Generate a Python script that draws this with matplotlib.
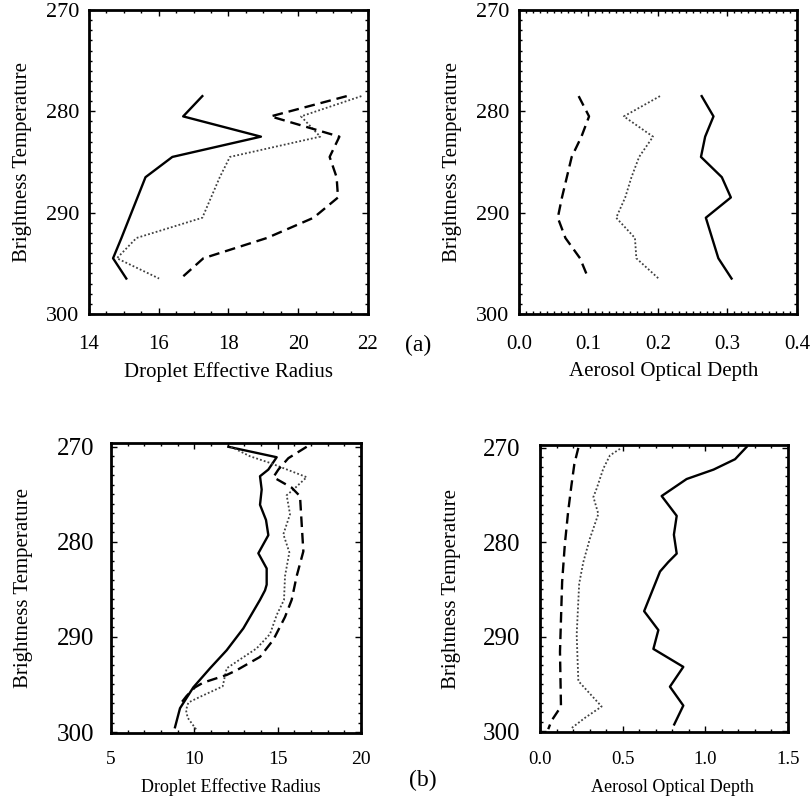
import matplotlib
matplotlib.use("Agg")
import matplotlib.pyplot as plt
from matplotlib.ticker import MultipleLocator

plt.rcParams['font.family'] = ['Liberation Serif', 'DejaVu Serif']

# ---------------- data ----------------
# (a) top panels: common brightness-temperature levels
t_a = [278.5, 280.5, 282.5, 284.5, 286.5, 288.5, 290.5, 292.5, 294.5, 296.5]
re_a_solid = [17.25, 16.70, 18.93, 16.39, 15.62, 15.39, 15.16, 14.93, 14.69, 15.07]
re_a_dot = [21.81, 20.08, 20.63, 18.04, 17.75, 17.50, 17.25, 15.36, 14.80, 16.01]
re_a_dash = [21.39, 19.21, 21.18, 20.90, 21.10, 21.14, 20.44, 19.10, 17.28, 16.63]
aod_a_dash = [0.086, 0.101, 0.090, 0.076, 0.069, 0.062, 0.056, 0.067, 0.088, 0.100]
aod_a_dot = [0.203, 0.151, 0.193, 0.173, 0.162, 0.153, 0.140, 0.167, 0.169, 0.201]
aod_a_solid = [0.263, 0.280, 0.268, 0.262, 0.292, 0.305, 0.269, 0.278, 0.287, 0.306]

# (b) bottom-left: droplet effective radius
t_b_re_solid = [270.0, 271.1, 272.4, 273.1, 274.5, 276.1, 277.7, 279.3, 281.2, 282.8,
                284.5, 285.1, 286.1, 289.1, 291.4, 293.3, 295.3, 297.5, 299.5]
re_b_solid = [12.04, 14.94, 14.44, 13.94, 14.04, 13.94, 14.30, 14.44, 13.84, 14.34,
              14.34, 14.24, 13.94, 12.94, 11.94, 10.94, 9.94, 9.14, 8.84]
t_b_re_dot = [270.0, 271.0, 271.7, 273.2, 274.5, 275.1, 277.1, 279.2, 281.1, 283.6,
              286.1, 287.7, 289.7, 291.2, 293.3, 295.2, 296.3, 296.9, 297.7, 298.5, 299.8]
re_b_dot = [12.2, 13.34, 14.54, 16.74, 15.94, 15.54, 15.74, 15.34, 15.70, 15.44,
            15.38, 14.94, 14.54, 13.74, 11.94, 11.70, 10.34, 9.64, 9.50, 9.60, 10.14]
t_b_re_dash = [270.0, 271.2, 272.4, 273.2, 274.3, 275.2, 278.1, 281.0, 283.6, 286.1,
               287.9, 290.3, 292.1, 293.5, 294.0, 294.8, 295.3, 296.2, 297.1]
re_b_dash = [16.74, 15.64, 15.04, 14.74, 15.84, 16.34, 16.44, 16.54, 16.14, 15.84,
             15.44, 14.74, 13.94, 12.54, 11.94, 10.54, 10.04, 9.54, 9.14]

# (b) bottom-right: aerosol optical depth
t_b_aod_solid = [269.9, 271.2, 272.3, 273.3, 275.1, 277.2, 279.2, 281.2, 282.1, 283.1,
                 287.3, 289.3, 291.3, 293.2, 295.3, 297.3, 299.3]
aod_b_solid = [1.25, 1.18, 1.05, 0.887, 0.736, 0.827, 0.81, 0.827, 0.776, 0.726,
               0.630, 0.716, 0.686, 0.867, 0.786, 0.867, 0.812]
t_b_aod_dash = [270.0, 270.7, 271.7, 274.0, 276.8, 280.3, 284.2, 291.6, 297.4, 298.9, 299.8]
aod_b_dash = [0.232, 0.222, 0.208, 0.19, 0.17, 0.15, 0.134, 0.121, 0.127, 0.07, 0.05]
t_b_aod_dot = [270.1, 270.8, 272.2, 274.3, 275.2, 277.0, 279.6, 282.1, 284.4, 289.8,
               294.7, 297.4, 298.6, 299.7]
aod_b_dot = [0.484, 0.423, 0.383, 0.343, 0.323, 0.353, 0.302, 0.262, 0.237, 0.222,
             0.232, 0.373, 0.272, 0.19]

ylabel_text = "Brightness Temperature"

# ---------------- styles ----------------
SOLID = dict(color='black', lw=1.7, linestyle='-')
DASH = dict(color='black', lw=1.7, linestyle=(0, (4.5, 2.5)))
DOT = dict(color='0.25', lw=1.3, linestyle=(0, (1, 1.2)))

fig = plt.figure(figsize=(8.12, 7.98), dpi=100)

def setup(ax, xlim, ylim, xmaj, xmin, xticks_fs, yticks_fs, xpad, ypad):
    ax.set_xlim(*xlim)
    ax.set_ylim(*ylim)
    ax.xaxis.set_major_locator(MultipleLocator(xmaj))
    ax.xaxis.set_minor_locator(MultipleLocator(xmin))
    ax.yaxis.set_major_locator(MultipleLocator(10))
    ax.yaxis.set_minor_locator(MultipleLocator(1))
    ax.tick_params(which='both', direction='in', top=True, right=True, width=1.0)
    ax.tick_params(which='major', length=4.5)
    ax.tick_params(which='minor', length=2.5)
    ax.tick_params(axis='x', which='major', labelsize=xticks_fs, pad=xpad)
    ax.tick_params(axis='y', which='major', labelsize=yticks_fs, pad=ypad)
    for s in ax.spines.values():
        s.set_linewidth(2.0)

# top-left
ax1 = fig.add_axes([0.1096, 0.6065, 0.3436, 0.381])
ax1.plot(re_a_solid, t_a, **SOLID)
ax1.plot(re_a_dot, t_a, **DOT)
ax1.plot(re_a_dash, t_a, **DASH)
setup(ax1, (14, 22), (300, 270), 2, 0.5, 15, 16, 15, 7)
ax1.set_xlabel("Droplet Effective Radius", fontsize=15, va='center')
ax1.xaxis.set_label_coords(0.5, -0.19)
ax1.set_ylabel(ylabel_text, fontsize=15, va='center')
ax1.yaxis.set_label_coords(-0.24, 0.5)

# top-right
ax2 = fig.add_axes([0.639, 0.6065, 0.3424, 0.381])
ax2.plot(aod_a_dash, t_a, **DASH)
ax2.plot(aod_a_dot, t_a, **DOT)
ax2.plot(aod_a_solid, t_a, **SOLID)
setup(ax2, (0.0, 0.4), (300, 270), 0.1, 0.01, 15, 16, 15, 7)
ax2.xaxis.set_major_formatter(matplotlib.ticker.FormatStrFormatter('%.1f'))
ax2.set_xlabel("Aerosol Optical Depth", fontsize=15, va='center')
ax2.xaxis.set_label_coords(0.52, -0.19)
ax2.set_ylabel(ylabel_text, fontsize=15, va='center')
ax2.yaxis.set_label_coords(-0.239, 0.5)

# bottom-left
ax3 = fig.add_axes([0.1367, 0.0815, 0.3079, 0.3634])
ax3.plot(re_b_solid, t_b_re_solid, **SOLID)
ax3.plot(re_b_dot, t_b_re_dot, **DOT)
ax3.plot(re_b_dash, t_b_re_dash, **DASH)
setup(ax3, (5, 20), (300.1, 269.6), 5, 1, 14, 18, 13, 12)
ax3.set_xlabel("Droplet Effective Radius", fontsize=13, va='center')
ax3.xaxis.set_label_coords(0.48, -0.186)
ax3.set_ylabel(ylabel_text, fontsize=15, va='center')
ax3.yaxis.set_label_coords(-0.348, 0.5)

# bottom-right
ax4 = fig.add_axes([0.665, 0.0827, 0.3054, 0.3596])
ax4.plot(aod_b_dash, t_b_aod_dash, **DASH)
ax4.plot(aod_b_dot, t_b_aod_dot, **DOT)
ax4.plot(aod_b_solid, t_b_aod_solid, **SOLID)
setup(ax4, (0.0, 1.5), (300.1, 269.7), 0.5, 0.1, 13.5, 18, 14, 14)
ax4.xaxis.set_major_formatter(matplotlib.ticker.FormatStrFormatter('%.1f'))
ax4.set_xlabel("Aerosol Optical Depth", fontsize=13, va='center')
ax4.xaxis.set_label_coords(0.535, -0.193)
ax4.set_ylabel(ylabel_text, fontsize=15, va='center')
ax4.yaxis.set_label_coords(-0.355, 0.5)

fig.text(418 / 812, 1 - 345 / 798, "(a)", fontsize=17, ha='center', va='center')
fig.text(423 / 812, 1 - 780 / 798, "(b)", fontsize=17, ha='center', va='center')

fig.savefig("out.png", dpi=100)
